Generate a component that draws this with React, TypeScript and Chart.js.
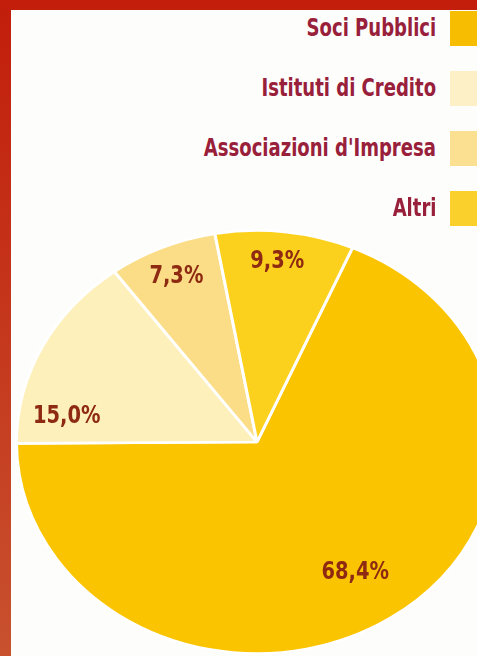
import React, { useEffect, useRef } from "react";
import { Chart, registerables } from "chart.js";

Chart.register(...registerables);

// ---- data ----
const categories = ["Soci Pubblici", "Istituti di Credito", "Associazioni d'Impresa", "Altri"];
const shares = [68.4, 15.0, 7.3, 9.3];
const sliceColors = ["#fbc400", "#fdf0bb", "#fadd86", "#fcd11e"];
const legendColors = ["#f7bd00", "#fdf0c6", "#fbe092", "#fad02c"];

// ---- styling ----
const FONT = '"Liberation Sans Narrow", "DejaVu Sans Condensed", "Arial Narrow", sans-serif';
const LEGEND_TEXT = "#98203a";
const VALUE_TEXT = "#8e2a12";
const Y_SCALE = 212 / 241;
const labelRadius = [0.74, 0.8, 0.85, 0.855];
const labelAngleShift = [0, -18, 0, -1];
const LABEL_X_SCALE = 0.9;
const LEGEND_X_SCALE = 0.835;

const formatShare = (v: number) => v.toFixed(1).replace(".", ",") + "%";

const ellipsePlugin = {
  id: "ellipse",
  beforeDatasetsDraw(chart: any) {
    const el = chart.getDatasetMeta(0).data[0];
    const { x, y } = el.getProps(["x", "y"], true);
    const ctx = chart.ctx;
    ctx.save();
    ctx.translate(x, y);
    ctx.scale(1, Y_SCALE);
    ctx.translate(-x, -y);
  },
  afterDatasetsDraw(chart: any) {
    chart.ctx.restore();
  },
};

const valueLabelPlugin = {
  id: "valueLabels",
  afterDraw(chart: any) {
    const ctx = chart.ctx;
    const meta = chart.getDatasetMeta(0);
    const data = chart.data.datasets[0].data as number[];
    meta.data.forEach((el: any, i: number) => {
      const { x, y, startAngle, endAngle, outerRadius } = el.getProps(
        ["x", "y", "startAngle", "endAngle", "outerRadius"],
        true
      );
      const a = (startAngle + endAngle) / 2 + (labelAngleShift[i] * Math.PI) / 180;
      const r = outerRadius * labelRadius[i];
      ctx.save();
      ctx.translate(x + Math.cos(a) * r, y + Math.sin(a) * r * Y_SCALE);
      ctx.scale(LABEL_X_SCALE, 1);
      ctx.font = `bold 24px ${FONT}`;
      ctx.fillStyle = VALUE_TEXT;
      ctx.textAlign = "center";
      ctx.textBaseline = "middle";
      ctx.fillText(formatShare(data[i]), 0, 0);
      ctx.restore();
    });
  },
};

export default function App() {
  const canvasRef = useRef<HTMLCanvasElement | null>(null);

  useEffect(() => {
    if (!canvasRef.current) return;
    const chart = new Chart(canvasRef.current, {
      type: "pie",
      data: {
        labels: categories,
        datasets: [
          {
            data: shares,
            backgroundColor: sliceColors,
            borderColor: "#ffffff",
            borderWidth: 3,
            clip: false as any,
          },
        ],
      },
      options: {
        responsive: false,
        animation: false,
        rotation: 23.4,
        layout: { padding: 0 },
        plugins: {
          legend: { display: false },
          tooltip: { enabled: false },
          title: { display: false },
        },
      },
      plugins: [ellipsePlugin, valueLabelPlugin],
    });
    return () => chart.destroy();
  }, []);

  return (
    <div
      style={{
        position: "fixed",
        left: 0,
        top: 0,
        width: 477,
        height: 656,
        overflow: "hidden",
        background: "linear-gradient(to bottom, #c21e0b 0%, #c53a1e 55%, #c8512e 100%)",
      }}
    >
      <div
        style={{
          position: "absolute",
          left: 11,
          top: 10,
          width: 520,
          height: 700,
          background: "#fdfdfc",
        }}
      />
      <canvas
        ref={canvasRef}
        width={484}
        height={484}
        style={{ position: "absolute", left: 15, top: 200, width: 484, height: 484 }}
      />
      {categories.map((c, i) => (
        <div
          key={c}
          style={{
            position: "absolute",
            top: 10.5 + 60 * i,
            left: 0,
            width: 477,
            height: 35,
          }}
        >
          <div
            style={{
              position: "absolute",
              right: 477 - 436,
              top: 0,
              height: 35,
              lineHeight: "35px",
              fontFamily: FONT,
              fontWeight: "bold",
              fontSize: 24,
              color: LEGEND_TEXT,
              whiteSpace: "nowrap",
              transform: `scaleX(${LEGEND_X_SCALE})`,
              transformOrigin: "right center",
            }}
          >
            {c}
          </div>
          <div
            style={{
              position: "absolute",
              left: 450,
              top: 0,
              width: 40,
              height: 35,
              background: legendColors[i],
            }}
          />
        </div>
      ))}
    </div>
  );
}
